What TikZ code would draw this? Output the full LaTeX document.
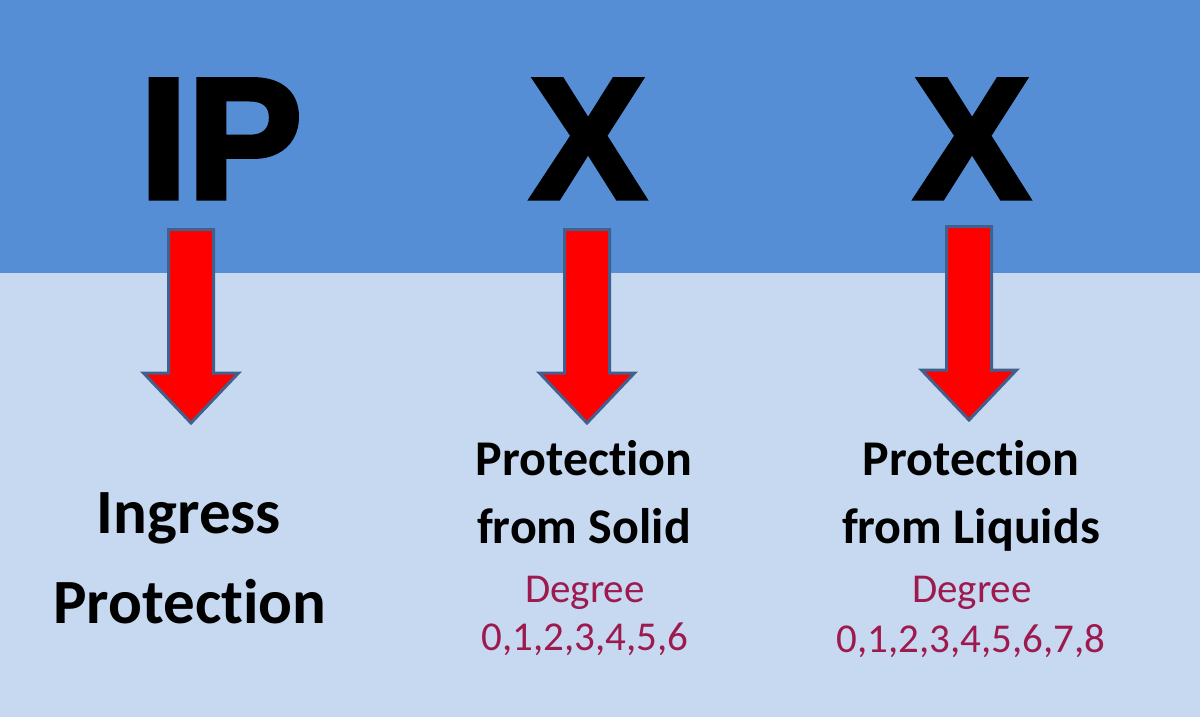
\documentclass[tikz,border=0pt]{standalone}
\usepackage{fontspec}
\setmainfont{Carlito}[Ligatures={NoCommon,NoRare,NoContextual}]
\newfontfamily\heavyfont[BoldFeatures={FakeBold=3}]{Liberation Sans}
\usepackage{tikz}
\usepackage{xcolor}
\definecolor{topblue}{HTML}{558ED5}
\definecolor{lowblue}{HTML}{C6D9F1}
\definecolor{arrowred}{HTML}{FF0000}
\definecolor{arrowedge}{HTML}{41608E}
\definecolor{degcol}{HTML}{9E1A4E}

\begin{document}
\begin{tikzpicture}[x=1pt, y=-1pt,
  bigletter/.style={anchor=base, inner sep=0pt, font=\heavyfont\bfseries\fontsize{172}{172}\selectfont},
  bigtext/.style={anchor=base, inner sep=0pt, font=\bfseries\fontsize{63}{63}\selectfont},
  lbl/.style={anchor=base, inner sep=0pt, font=\bfseries\fontsize{50}{50}\selectfont},
  deg/.style={anchor=base, inner sep=0pt, text=degcol, font=\fontsize{41}{41}\selectfont},
  downarr/.pic={
    \draw[fill=arrowred, draw=arrowedge, line width=3pt, line join=miter]
      (-22.5,1.5) -- (22.5,1.5) -- (22.5,145) -- (47.5,145)
      -- (0,195) -- (-47.5,145) -- (-22.5,145) -- cycle;
  }
]
% background bands
\fill[topblue] (0,0) rectangle (1200,273);
\fill[lowblue] (0,273) rectangle (1200,717);

% IP X X
\node[bigletter] (ip) at (221,198) {IP};
\node[bigletter] (xone) at (588,198) {X};
\node[bigletter] (xtwo) at (972,198) {X};

% arrows
\pic at (191,228) {downarr};
\pic at (587,228) {downarr};
\pic at (969,225) {downarr};

% labels
\node[bigtext] (ingress) at (189,533) {Ingress};
\node[bigtext] (prot) at (190,623) {Protection};

\node[lbl] (solidone) at (584,475) {Protection};
\node[lbl] (solidtwo) at (584,543) {from Solid};
\node[deg] (degone) at (585,602) {Degree};
\node[deg] (numone) at (585,650) {0,1,2,3,4,5,6};

\node[lbl] (liqone) at (971,475) {Protection};
\node[lbl] (liqtwo) at (971,543) {from Liquids};
\node[deg] (degtwo) at (972,602) {Degree};
\node[deg] (numtwo) at (971,652) {0,1,2,3,4,5,6,7,8};
\end{tikzpicture}
\end{document}
